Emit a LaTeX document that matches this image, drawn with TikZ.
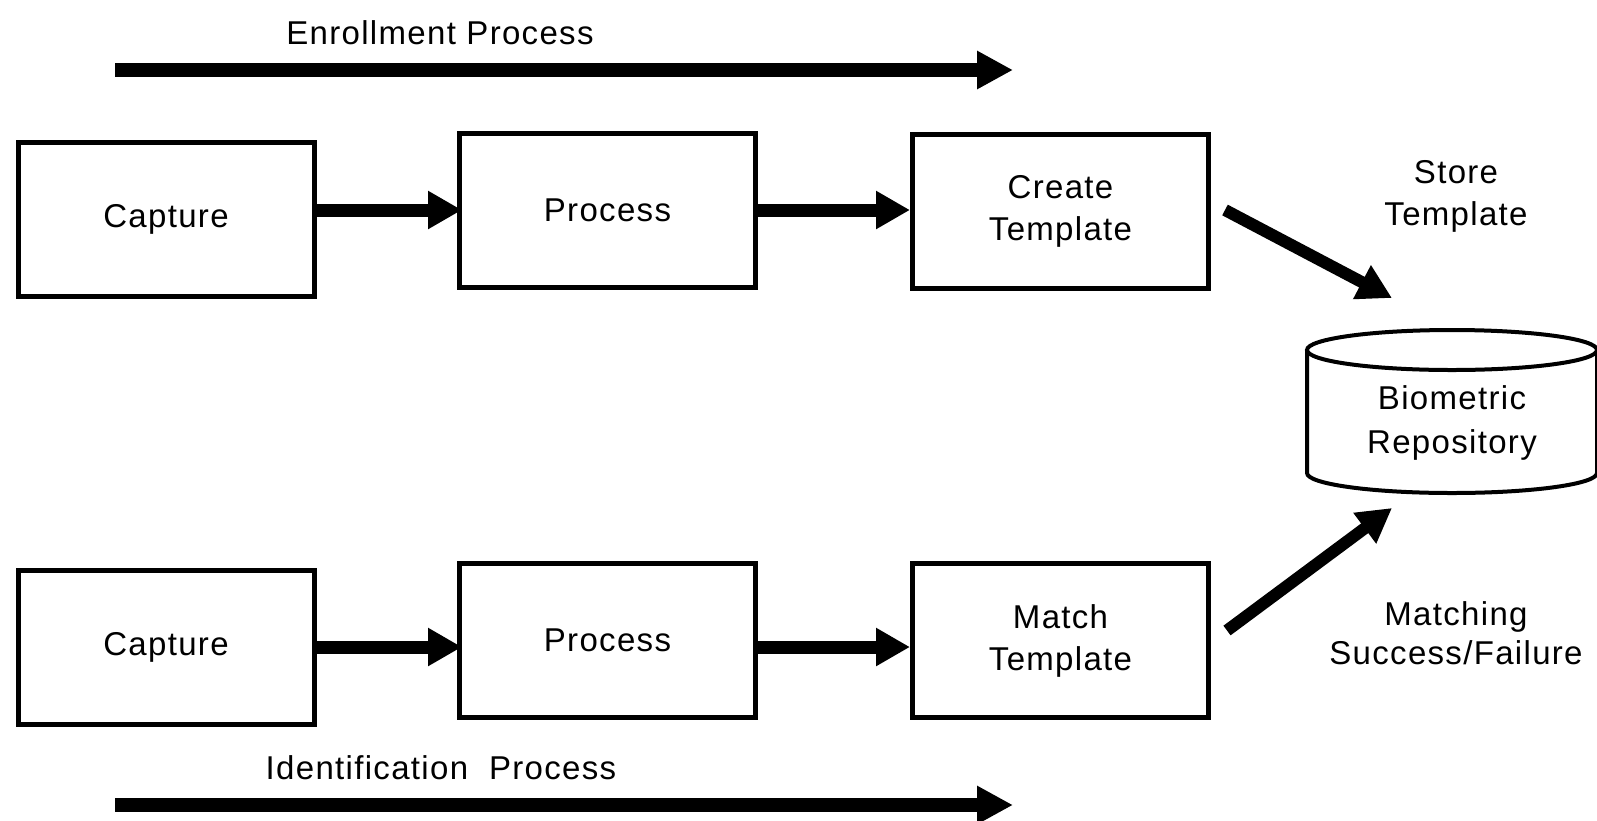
\documentclass[tikz,border=0pt]{standalone}
\usepackage{fontspec}
\setmainfont{Liberation Sans}[LetterSpace=4]
\usetikzlibrary{positioning, arrows.meta}

\begin{document}
\begin{tikzpicture}[x=1pt, y=-1pt,
    box/.style={draw, line width=5pt, minimum width=296pt, minimum height=154pt,
                align=center, font=\fontsize{33}{42}\selectfont},
    note/.style={font=\fontsize{33}{42}\selectfont, align=center, inner sep=0pt},
    arrow/.style={-{Triangle[length=34pt, width=36pt]}, line width=13pt},
    flow/.style={-{Triangle[length=36pt, width=36pt]}, line width=14pt},
    can/.style={line width=4pt}
  ]
    \useasboundingbox (0,0) rectangle (1597,820);

    % Enrollment run
    \node[note, anchor=north] (enr) at (440,20) {Enrollment Process};
    \coordinate (enrS) at (115,70);
    \coordinate (enrE) at (1013,70);
    \draw[flow] (enrS) -- (enrE);

    \node[box] (cap1)  at (166,219)    {Capture};
    \node[box] (proc1) at (607.5,210)  {Process};
    \node[box] (tmpl1) at (1060.5,211) {Create\\Template};

    \draw[arrow] (cap1.east |- proc1.west) -- ([xshift=5pt]proc1.west);
    \draw[arrow] (proc1.east) -- (proc1.east -| tmpl1.west);

    % Identification run
    \node[box] (cap2)  at (166,647)    {Capture};
    \node[box] (proc2) at (607.5,640)  {Process};
    \node[box] (tmpl2) at (1060.5,640.5) {Match\\Template};

    \draw[arrow] (cap2.east) -- ([xshift=5pt]cap2.east -| proc2.west);
    \draw[arrow] (proc2.east |- cap2.east) -- (cap2.east -| tmpl2.west);

    \node[note, anchor=north] (idt) at (441,755) {Identification\ \ Process};
    \coordinate (idS) at (115,805);
    \coordinate (idE) at (1013,805);
    \draw[flow] (idS) -- (idE);

    % Repository
    \draw[can] (1452,350) ellipse [x radius=145, y radius=20];
    \draw[can] (1307,350) -- (1307,473)
      arc [start angle=180, end angle=0, x radius=145, y radius=20] -- (1597,350);
    \node[note, anchor=north, font=\fontsize{33}{44}\selectfont] (repo) at (1452,385)
      {Biometric\\Repository};

    \node[note, anchor=north] (store) at (1456,160) {Store\\Template};
    \node[note, anchor=north, font=\fontsize{33}{39}\selectfont] (match) at (1456,601)
      {Matching\\Success/Failure};

    \coordinate (storeIn) at (1392,298);
    \coordinate (matchIn) at (1392,508);
    \draw[arrow, line width=12pt] ([shift={(14,-1)}]tmpl1.east) -- (storeIn);
    \draw[arrow, line width=12pt] ([shift={(16,-10)}]tmpl2.east) -- (matchIn);
\end{tikzpicture}
\end{document}
